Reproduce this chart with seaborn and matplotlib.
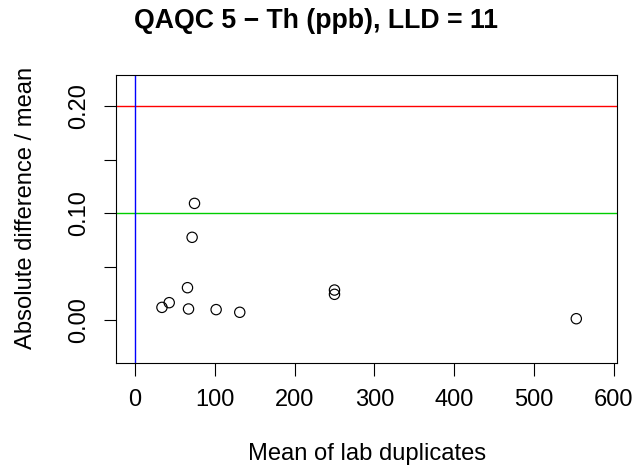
import matplotlib
matplotlib.use("Agg")
import matplotlib.pyplot as plt
import seaborn as sns
import pandas as pd

mean_dup = [33.8, 42.9, 65.8, 67.1, 71.6, 74.6, 101.7, 131.3, 250.0, 250.0, 553.0]
rel_diff = [0.0118, 0.0162, 0.0302, 0.0103, 0.0773, 0.109, 0.0097, 0.0072, 0.028, 0.024, 0.0012]
x_ticks = [0, 100, 200, 300, 400, 500, 600]
y_ticks = [0.00, 0.05, 0.10, 0.15, 0.20]
y_tick_labels = ["0.00", "", "0.10", "", "0.20"]
title = "QAQC 5 \u2212 Th (ppb), LLD = 11"
xlabel = "Mean of lab duplicates"
ylabel = "Absolute difference / mean"

df = pd.DataFrame({"x": mean_dup, "y": rel_diff})

sns.set_style("white")
plt.rcParams["font.family"] = ["Liberation Sans", "DejaVu Sans"]
plt.rcParams["text.color"] = "black"
plt.rcParams["axes.labelcolor"] = "black"
plt.rcParams["xtick.color"] = "black"
plt.rcParams["ytick.color"] = "black"

fig = plt.figure(figsize=(6.33, 4.69), dpi=100)
ax = fig.add_axes([116.3 / 633, (469 - 363) / 469, (617 - 116.3) / 633, (363 - 74.7) / 469])

ax.axhline(0.2, color="#FF0000", lw=1.0, zorder=1)
ax.axhline(0.1, color="#00CD00", lw=1.0, zorder=1)
ax.axvline(0, color="#0000FF", lw=1.0, zorder=1)

sns.scatterplot(data=df, x="x", y="y", ax=ax, marker="o", s=55,
                facecolor="none", edgecolor="black", linewidth=0.85, zorder=3)

ax.set_xlim(-23.4, 604)
ax.set_ylim(-0.0402, 0.2293)
ax.set_xticks(x_ticks)
ax.set_xticklabels([str(v) for v in x_ticks])
ax.set_yticks(y_ticks)
ax.set_yticklabels(y_tick_labels, rotation=90, va="center")

ax.tick_params(axis="both", direction="out", length=9, width=0.8, color="black",
               labelcolor="black", labelsize=17, pad=10, bottom=True, left=True)
for sp in ax.spines.values():
    sp.set_visible(True)
    sp.set_color("black")
    sp.set_linewidth(0.8)

ax.set_xlabel(xlabel, fontsize=17.1, labelpad=23, color="black")
ax.set_ylabel(ylabel, fontsize=17.1, color="black")
ax.yaxis.set_label_coords(-0.158, 0.539)
fig.text(0.5, 1 - 21 / 469, title, ha="center", va="center", fontsize=19.2,
         fontweight="bold", color="black")

fig.savefig("out.png", dpi=100)
